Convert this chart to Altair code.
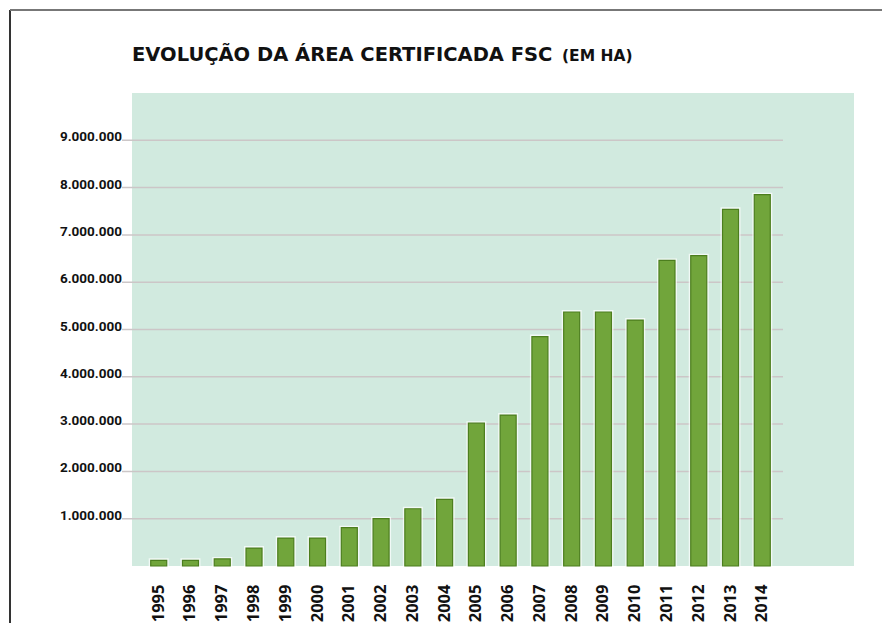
import altair as alt
import pandas as pd

years = [str(y) for y in range(1995, 2015)]
area_ha = [120000, 120000, 150000, 380000, 590000, 590000, 810000, 1000000,
           1210000, 1410000, 3020000, 3190000, 4850000, 5370000, 5370000,
           5200000, 6460000, 6560000, 7540000, 7850000]
tick_values = [1000000, 2000000, 3000000, 4000000, 5000000,
               6000000, 7000000, 8000000, 9000000]
tick_labels = ["1.000.000", "2.000.000", "3.000.000", "4.000.000", "5.000.000",
               "6.000.000", "7.000.000", "8.000.000", "9.000.000"]
title_main = "EVOLUÇÃO DA ÁREA CERTIFICADA FSC"
title_unit = "(EM HA)"

W, H = 722, 473
bars_df = pd.DataFrame({"ano": years, "area": area_ha})
ticks_df = pd.DataFrame({"v": tick_values, "lab": tick_labels})
one = alt.InlineData(values=[{"k": 1}])

yscale = alt.Scale(domain=[0, 10000000], zero=True, nice=False)
xscale = alt.Scale(range=[0, 657], paddingInner=0.496, paddingOuter=0.589)

grid = alt.Chart(ticks_df).mark_rule(color="#ccc6c7", strokeWidth=1.5).encode(
    y=alt.Y("v:Q", scale=yscale, axis=None),
    x=alt.value(-10), x2=alt.value(651),
)
ylabels = alt.Chart(ticks_df).mark_text(
    align="right", baseline="alphabetic", dy=1,
    font="Roboto", fontWeight="bold", fontSize=13.5, color="#111111",
).encode(
    y=alt.Y("v:Q", scale=yscale, axis=None),
    x=alt.value(-10), text="lab:N",
)

xenc = alt.X("ano:N", scale=xscale, sort=years, title=None,
             axis=alt.Axis(labelAngle=270, labelFont="Open Sans",
                           labelFontWeight="bold", labelFontSize=16.5,
                           labelColor="#111111", labelPadding=18,
                           ticks=False, domain=False, grid=False))
glow = alt.Chart(bars_df).mark_bar(
    fill="transparent", stroke="white", strokeWidth=4, strokeOpacity=0.7
).encode(x=xenc, y=alt.Y("area:Q", scale=yscale, axis=None))
bars = alt.Chart(bars_df).mark_bar(
    fill="#71a53b", stroke="#4c7e1e", strokeWidth=1.2
).encode(x=xenc, y=alt.Y("area:Q", scale=yscale, axis=None))

title1 = alt.Chart(one).mark_text(
    align="left", baseline="alphabetic", font="DejaVu Sans", fontWeight="bold",
    fontSize=19.5, color="#111111", text=title_main,
).encode(x=alt.value(0), y=alt.value(-32))
title2 = alt.Chart(one).mark_text(
    align="left", baseline="alphabetic", font="DejaVu Sans", fontWeight="bold",
    fontSize=15.5, color="#111111", text=title_unit,
).encode(x=alt.value(430), y=alt.value(-32))

left_border = alt.Chart(one).mark_rule(color="#333333", strokeWidth=2).encode(
    x=alt.value(-122), y=alt.value(-83), y2=alt.value(540))
top_border = alt.Chart(one).mark_rule(color="#777777", strokeWidth=2).encode(
    x=alt.value(-122), x2=alt.value(760), y=alt.value(-83))

chart = alt.layer(grid, ylabels, glow, bars, title1, title2,
                  left_border, top_border).properties(
    width=W, height=H,
    padding={"left": 124, "top": 85, "right": 28, "bottom": 57},
    autosize=alt.AutoSizeParams(type="none"),
).configure_view(fill="#d1eadf", strokeWidth=0)

chart.save("out.html", embed_options={"renderer": "svg", "actions": False})
